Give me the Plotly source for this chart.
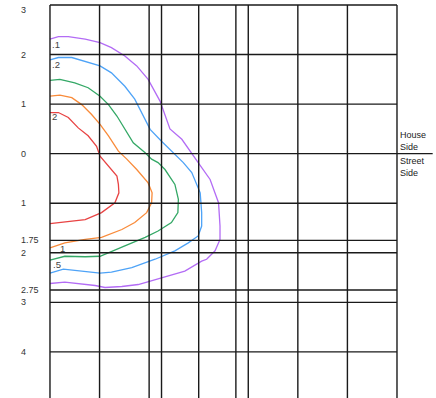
import plotly.graph_objects as go

# grid positions (data units)
x_lines = [0, 1, 2, 2.25, 3, 3.75, 4, 5, 6, 7]
y_lines = [-3, -2, -1, 0, 1, 1.75, 2, 2.75, 3, 4]
y_tick_text = ["3", "2", "1", "0", "1", "1.75", "2", "2.75", "3", "4"]

# contour lines
purple_x = [0, 0.17, 0.37, 0.71, 1.01, 1.24, 1.51, 1.75, 1.98, 2.22, 2.42, 2.66, 2.99, 3.23, 3.40, 3.43, 3.43, 3.33, 3.16, 3.06, 2.72, 2.25, 1.78, 1.45, 1.11, 0.91, 0.57, 0.30, 0]
purple_y = [-2.31, -2.36, -2.36, -2.31, -2.24, -2.14, -1.97, -1.77, -1.50, -1.06, -0.50, -0.29, 0.18, 0.52, 0.99, 1.46, 1.73, 1.96, 2.13, 2.17, 2.37, 2.50, 2.64, 2.68, 2.70, 2.66, 2.62, 2.59, 2.62]
blue_x = [0, 0.17, 0.44, 0.77, 1.01, 1.24, 1.51, 1.71, 1.88, 2.02, 2.25, 2.52, 2.69, 2.86, 3.03, 3.06, 3.06, 2.99, 2.79, 2.52, 2.12, 1.65, 1.24, 1.01, 0.57, 0.27, 0]
blue_y = [-1.89, -1.94, -1.94, -1.85, -1.77, -1.63, -1.36, -1.10, -0.76, -0.49, -0.25, 0.01, 0.18, 0.38, 0.79, 1.19, 1.46, 1.66, 1.80, 1.96, 2.13, 2.30, 2.39, 2.41, 2.37, 2.33, 2.41]
green_x = [0, 0.20, 0.50, 0.77, 1.01, 1.18, 1.35, 1.51, 1.68, 1.92, 2.05, 2.18, 2.32, 2.52, 2.59, 2.58, 2.45, 2.18, 1.92, 1.51, 1.18, 1.01, 0.71, 0.30, 0]
green_y = [-1.48, -1.50, -1.43, -1.33, -1.16, -0.99, -0.76, -0.49, -0.22, -0.02, 0.11, 0.18, 0.32, 0.62, 0.92, 1.19, 1.39, 1.56, 1.69, 1.86, 2.00, 2.07, 2.08, 2.07, 2.15]
orange_x = [0, 0.20, 0.44, 0.64, 0.84, 1.01, 1.18, 1.38, 1.55, 1.75, 1.98, 2.06, 2.05, 1.95, 1.71, 1.45, 1.04, 0.71, 0.30, 0]
orange_y = [-1.16, -1.18, -1.13, -0.99, -0.79, -0.59, -0.36, -0.05, 0.11, 0.32, 0.59, 0.79, 0.99, 1.19, 1.39, 1.53, 1.69, 1.73, 1.80, 1.90]
red_x = [0, 0.17, 0.37, 0.57, 0.77, 0.91, 0.94, 1.01, 1.18, 1.35, 1.38, 1.39, 1.31, 1.21, 1.04, 0.71, 0.30, 0]
red_y = [-0.83, -0.83, -0.73, -0.52, -0.36, -0.19, -0.15, 0.05, 0.25, 0.45, 0.62, 0.79, 0.99, 1.06, 1.19, 1.33, 1.38, 1.41]

# contour labels
label_text = [".1", ".2", "2", "1", ".5"]
label_x = [0.01, 0.01, 0.0, 0.16, 0.02]
label_y = [-2.21, -1.79, -0.74, 1.92, 2.24]

side_text = ["House<br>Side", "Street<br>Side"]

FONT = "Liberation Sans, Arial, sans-serif"

fig = go.Figure()

contours = [
    (purple_x, purple_y, "#b36cf5"),
    (blue_x, blue_y, "#4ea3f7"),
    (green_x, green_y, "#34a866"),
    (orange_x, orange_y, "#f98b3a"),
    (red_x, red_y, "#e84343"),
]
for cx, cy, col in contours:
    fig.add_trace(go.Scatter(x=cx, y=cy, mode="lines",
                             line=dict(color=col, width=1.3),
                             hoverinfo="skip", showlegend=False))

shapes = []
for xv in x_lines:
    shapes.append(dict(type="line", xref="x", yref="y", x0=xv, x1=xv,
                       y0=y_lines[0], y1=5.2, line=dict(color="#1a1a1a", width=1.4), layer="above"))
for yv in y_lines:
    x_end = 7.72 if yv == 0 else x_lines[-1]
    shapes.append(dict(type="line", xref="x", yref="y", x0=x_lines[0], x1=x_end,
                       y0=yv, y1=yv, line=dict(color="#1a1a1a", width=1.4), layer="above"))

annotations = []
for yv, t in zip(y_lines, y_tick_text):
    annotations.append(dict(xref="paper", yref="y", x=-0.075, y=yv, text=t,
                            xanchor="left", yanchor="middle", showarrow=False,
                            yshift=-5 if yv == y_lines[0] else 0,
                            font=dict(family=FONT, size=9, color="#333333")))
for t, lx, ly in zip(label_text, label_x, label_y):
    annotations.append(dict(xref="x", yref="y", x=lx, y=ly, text=t,
                            xanchor="left", yanchor="middle", showarrow=False,
                            font=dict(family=FONT, size=9.5, color="#444444")))
annotations.append(dict(xref="x", yref="y", x=7.02, y=0, text=side_text[0],
                        xanchor="left", yanchor="bottom", align="left", showarrow=False,
                        font=dict(family=FONT, size=9, color="#222222")))
annotations.append(dict(xref="x", yref="y", x=7.02, y=0, text=side_text[1],
                        xanchor="left", yanchor="top", align="left", showarrow=False,
                        font=dict(family=FONT, size=9, color="#222222")))

fig.update_layout(
    width=436, height=398,
    margin=dict(l=48, r=0, t=3, b=0),
    paper_bgcolor="white", plot_bgcolor="white",
    xaxis=dict(range=[-0.04, 7.787], visible=False, fixedrange=True),
    yaxis=dict(range=[4.93, -3.04], visible=False, fixedrange=True),
    shapes=shapes, annotations=annotations,
    showlegend=False,
)

fig.write_html("out.html", config={"displayModeBar": False},
               post_script="document.body.style.margin='0';document.body.style.overflow='hidden';")
